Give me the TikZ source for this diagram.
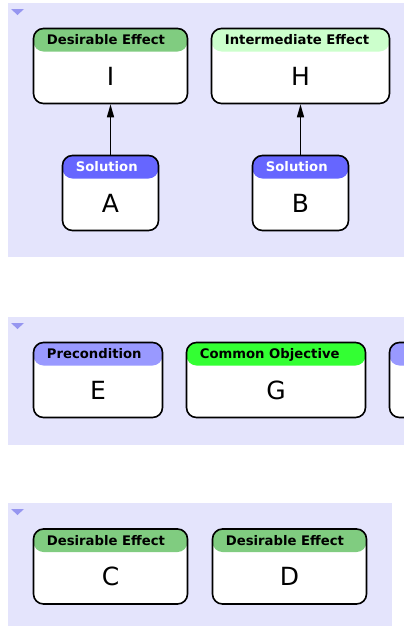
\documentclass[tikz,border=0pt]{standalone}
\usepackage{fontspec}
\setmainfont{DejaVu Sans}
\usetikzlibrary{arrows.meta, positioning}

\definecolor{groupbg}{RGB}{228,228,252}
\definecolor{foldmark}{RGB}{150,150,240}
\definecolor{desirable}{RGB}{128,204,128}
\definecolor{intermediate}{RGB}{204,255,204}
\definecolor{solution}{RGB}{102,102,255}
\definecolor{precond}{RGB}{153,153,255}
\definecolor{objective}{RGB}{51,255,51}

\begin{document}
\begin{tikzpicture}[
    x=1pt, y=-1pt,
    group/.style={fill=groupbg, draw=none},
    fold/.style={fill=foldmark, draw=none},
    entity/.style={rectangle, draw=black, line width=1.6pt, fill=white, rounded corners=10pt, minimum height=75pt, inner sep=0pt, text height=38pt, text depth=0pt, font=\fontsize{25}{25}\selectfont},
    head/.style={path picture={\fill[#1] (path picture bounding box.north west) rectangle ([yshift=-23pt]path picture bounding box.north east);}},
    title/.style={anchor=base west, inner sep=0pt, font=\bfseries\fontsize{13.2}{13.2}\selectfont},
    link/.style={-{Triangle[length=13pt,width=7pt]}, line width=1.4pt}
]
\useasboundingbox (0,0) rectangle (404,627);
\clip (0,0) rectangle (404,627);

% Group backgrounds
\fill[group] (8,3)   rectangle (404,257);
\fill[group] (8,317) rectangle (404,445);
\fill[group] (8,503) rectangle (392,626);
\fill[fold] (11,9)   -- (24,9)   -- (17.5,15)  -- cycle;
\fill[fold] (11,323) -- (24,323) -- (17.5,329) -- cycle;
\fill[fold] (11,509) -- (24,509) -- (17.5,515) -- cycle;

% Effects and solutions
\node[entity, head=desirable, minimum width=154pt]    (I) at (110.5,66)  {I};
\node[entity, head=intermediate, minimum width=178pt] (H) at (300.5,66)  {H};
\node[entity, head=solution, minimum width=96pt]      (A) at (110.5,193) {A};
\node[entity, head=solution, minimum width=96pt]      (B) at (300.5,193) {B};
\node[title] (I-title) at ([xshift=14pt,yshift=-16.8pt]I.north west) {Desirable Effect};
\node[title] (H-title) at ([xshift=14pt,yshift=-16.8pt]H.north west) {Intermediate Effect};
\node[title, text=white] (A-title) at ([xshift=14pt,yshift=-16.8pt]A.north west) {Solution};
\node[title, text=white] (B-title) at ([xshift=14pt,yshift=-16.8pt]B.north west) {Solution};

\draw[link] (A) -- (I);
\draw[link] (B) -- (H);

% Preconditions and objectives
\node[entity, head=precond, minimum width=129pt]   (E) at (98,380)  {E};
\node[entity, head=objective, minimum width=179pt] (G) at (276,380) {G};
\node[entity, head=precond, minimum width=129pt]   (P) at (454,380) {};
\node[title] (E-title) at ([xshift=14pt,yshift=-16.8pt]E.north west) {Precondition};
\node[title] (G-title) at ([xshift=14pt,yshift=-16.8pt]G.north west) {Common Objective};

% Further effects
\node[entity, head=desirable, minimum width=154pt] (C) at (110.5,566.5) {C};
\node[entity, head=desirable, minimum width=154pt] (D) at (289.5,566.5) {D};
\node[title] (C-title) at ([xshift=14pt,yshift=-16.8pt]C.north west) {Desirable Effect};
\node[title] (D-title) at ([xshift=14pt,yshift=-16.8pt]D.north west) {Desirable Effect};

\end{tikzpicture}
\end{document}
